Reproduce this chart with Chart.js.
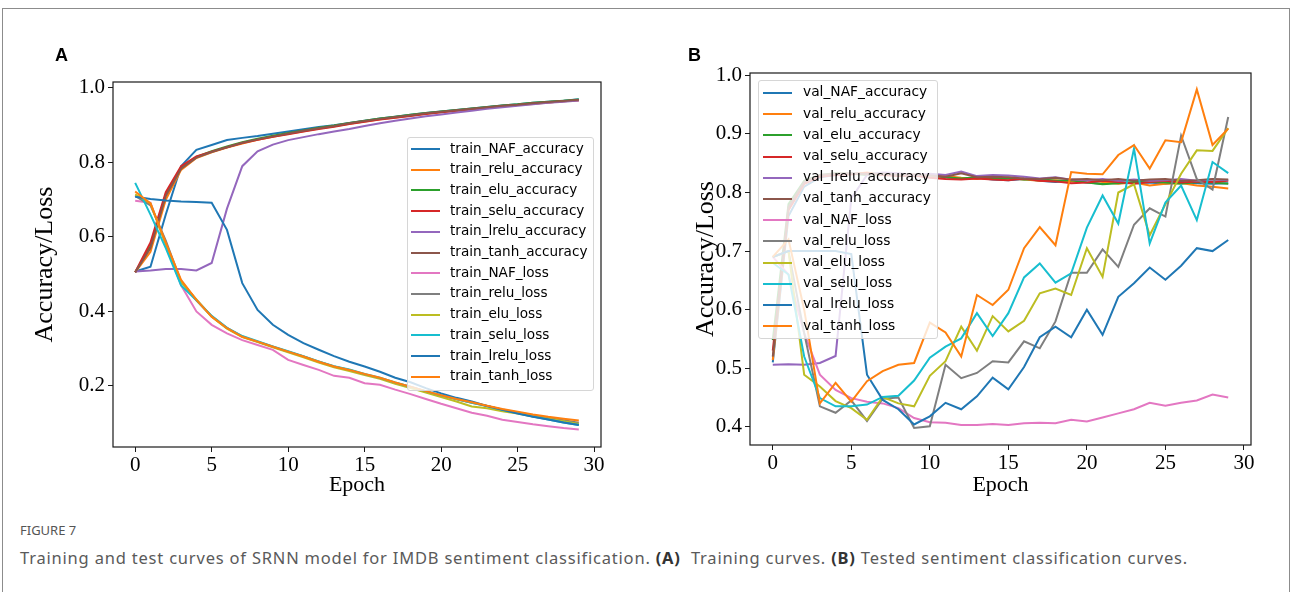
<!DOCTYPE html>
<html>
<head>
<meta charset="utf-8">
<script src="https://cdn.jsdelivr.net/npm/chart.js@4.4.0/dist/chart.umd.min.js"></script>
<style>
  body { margin: 0; background: #fff; width: 1292px; height: 592px; overflow: hidden; position: relative; }
  .frame { position: absolute; left: 2px; top: 8px; width: 1286px; height: 620px; border: 1px solid #8c8c8c; }
  canvas { position: absolute; top: 0; }
  #cA { left: 0; }
  #cB { left: 646px; }
  .plabel { position: absolute; font: bold 18px "Liberation Sans", Arial, sans-serif; color: #000; }
  .legend { position: absolute; border: 1px solid #d6d6d6; border-radius: 3px; background: rgba(255,255,255,0.8); box-sizing: border-box; }
  .legend .row { position: absolute; white-space: nowrap; font-family: "DejaVu Sans", sans-serif; color: #000; line-height: 1; }
  .legend .sw { position: absolute; height: 2px; }
  .fig { position: absolute; left: 20px; top: 521px; font: 13px "Noto Sans", sans-serif; color: #555; }
  .cap { position: absolute; left: 20px; top: 546px; font: 16.5px "Noto Sans", sans-serif; letter-spacing: 0.8px; color: #5a5a5a; white-space: nowrap; }
  .cap b { color: #333; }
</style>
</head>
<body>
<div class="frame"></div>
<canvas id="cA" width="646" height="520"></canvas>
<canvas id="cB" width="646" height="520"></canvas>
<div class="plabel" style="left:55px;top:45px">A</div>
<div class="plabel" style="left:688px;top:45px">B</div>
<div class="legend" id="legA" style="left:407px;top:137px;width:187px;height:254px"></div>
<div class="legend" id="legB" style="left:758px;top:80px;width:180px;height:259px"></div>
<div class="fig">FIGURE 7</div>
<div class="cap">Training and test curves of SRNN model for IMDB sentiment classification. <b>(A)</b>&nbsp; Training curves. <b>(B)</b> Tested sentiment classification curves.</div>

<script>
const epochs = [0,1,2,3,4,5,6,7,8,9,10,11,12,13,14,15,16,17,18,19,20,21,22,23,24,25,26,27,28,29];
const xTicks = [0, 5, 10, 15, 20, 25, 30];
const yTicksA = [0.2, 0.4, 0.6, 0.8, 1.0];
const yTicksB = [0.4, 0.5, 0.6, 0.7, 0.8, 0.9, 1.0];

const colors = ['#1f77b4','#ff7f0e','#2ca02c','#d62728','#9467bd','#8c564b','#e377c2','#7f7f7f','#bcbd22','#17becf','#1f77b4','#ff7f0e'];

const namesA = ['train_NAF_accuracy','train_relu_accuracy','train_elu_accuracy','train_selu_accuracy','train_lrelu_accuracy','train_tanh_accuracy',
  'train_NAF_loss','train_relu_loss','train_elu_loss','train_selu_loss','train_lrelu_loss','train_tanh_loss'];
const namesB = ['val_NAF_accuracy','val_relu_accuracy','val_elu_accuracy','val_selu_accuracy','val_lrelu_accuracy','val_tanh_accuracy',
  'val_NAF_loss','val_relu_loss','val_elu_loss','val_selu_loss','val_lrelu_loss','val_tanh_loss'];

// panel A - training
const trainNafAcc  = [0.507,0.52,0.66,0.79,0.834,0.847,0.86,0.866,0.871,0.877,0.883,0.889,0.895,0.9,0.906,0.912,0.918,0.923,0.928,0.933,0.937,0.941,0.945,0.949,0.953,0.956,0.96,0.963,0.966,0.97];
const trainReluAcc = [0.505,0.56,0.70,0.78,0.812,0.827,0.84,0.851,0.861,0.869,0.877,0.884,0.891,0.897,0.904,0.91,0.916,0.921,0.926,0.931,0.935,0.939,0.943,0.947,0.951,0.954,0.957,0.961,0.964,0.967];
const trainEluAcc  = [0.505,0.575,0.715,0.785,0.815,0.83,0.843,0.854,0.864,0.872,0.879,0.886,0.893,0.899,0.906,0.912,0.918,0.923,0.928,0.933,0.937,0.941,0.945,0.949,0.953,0.956,0.96,0.963,0.966,0.969];
const trainSeluAcc = [0.505,0.585,0.72,0.79,0.816,0.829,0.841,0.852,0.861,0.869,0.876,0.883,0.89,0.896,0.903,0.909,0.915,0.92,0.925,0.93,0.935,0.939,0.943,0.947,0.951,0.954,0.958,0.961,0.964,0.967];
const trainLreluAcc= [0.507,0.51,0.514,0.514,0.51,0.53,0.676,0.79,0.83,0.848,0.86,0.868,0.876,0.883,0.89,0.898,0.905,0.912,0.918,0.924,0.929,0.934,0.939,0.944,0.948,0.952,0.956,0.96,0.963,0.966];
const trainTanhAcc = [0.505,0.57,0.71,0.783,0.813,0.828,0.841,0.853,0.862,0.87,0.878,0.885,0.892,0.898,0.905,0.911,0.917,0.922,0.927,0.932,0.936,0.94,0.944,0.948,0.952,0.955,0.959,0.962,0.965,0.968];
const trainNafLoss  = [0.697,0.692,0.58,0.47,0.40,0.364,0.341,0.323,0.31,0.297,0.27,0.256,0.243,0.227,0.222,0.207,0.203,0.19,0.178,0.165,0.152,0.14,0.128,0.12,0.109,0.103,0.097,0.092,0.087,0.083];
const trainReluLoss = [0.71,0.685,0.59,0.48,0.43,0.387,0.356,0.333,0.319,0.305,0.292,0.279,0.265,0.252,0.243,0.231,0.221,0.208,0.197,0.185,0.174,0.164,0.155,0.146,0.137,0.129,0.121,0.114,0.108,0.101];
const trainEluLoss  = [0.714,0.69,0.58,0.48,0.432,0.386,0.354,0.331,0.318,0.304,0.29,0.277,0.263,0.25,0.24,0.229,0.219,0.206,0.194,0.182,0.17,0.158,0.145,0.14,0.132,0.126,0.118,0.112,0.105,0.098];
const trainSeluLoss = [0.745,0.66,0.57,0.47,0.43,0.388,0.356,0.334,0.32,0.306,0.293,0.28,0.266,0.253,0.244,0.232,0.222,0.209,0.198,0.186,0.175,0.165,0.155,0.146,0.136,0.127,0.118,0.11,0.102,0.095];
const trainLreluLoss= [0.708,0.702,0.698,0.695,0.694,0.692,0.619,0.476,0.404,0.364,0.337,0.315,0.297,0.28,0.265,0.252,0.238,0.222,0.21,0.194,0.18,0.168,0.158,0.146,0.136,0.126,0.117,0.11,0.102,0.095];
const trainTanhLoss = [0.722,0.69,0.585,0.485,0.431,0.386,0.355,0.332,0.319,0.305,0.292,0.279,0.265,0.252,0.243,0.232,0.222,0.209,0.198,0.186,0.175,0.165,0.156,0.147,0.138,0.131,0.123,0.117,0.112,0.107];

// panel B - validation
const valNafAcc  = [0.51,0.76,0.81,0.826,0.83,0.832,0.833,0.832,0.831,0.83,0.829,0.826,0.824,0.825,0.822,0.821,0.823,0.82,0.818,0.82,0.817,0.815,0.818,0.816,0.817,0.815,0.818,0.816,0.815,0.816];
const valReluAcc = [0.514,0.77,0.815,0.828,0.832,0.831,0.834,0.83,0.832,0.83,0.826,0.828,0.825,0.823,0.826,0.824,0.822,0.82,0.821,0.819,0.822,0.818,0.815,0.817,0.812,0.815,0.816,0.812,0.81,0.807];
const valEluAcc  = [0.548,0.78,0.82,0.83,0.833,0.832,0.83,0.831,0.829,0.828,0.83,0.826,0.824,0.826,0.823,0.825,0.822,0.823,0.82,0.821,0.817,0.814,0.816,0.818,0.819,0.817,0.815,0.818,0.817,0.815];
const valSeluAcc = [0.53,0.77,0.815,0.827,0.83,0.831,0.833,0.83,0.828,0.829,0.825,0.823,0.822,0.824,0.822,0.821,0.824,0.82,0.819,0.816,0.817,0.82,0.818,0.815,0.818,0.82,0.817,0.819,0.818,0.82];
const valLreluAcc= [0.506,0.507,0.506,0.509,0.521,0.79,0.83,0.834,0.833,0.83,0.832,0.83,0.836,0.828,0.83,0.829,0.827,0.824,0.826,0.822,0.821,0.823,0.82,0.822,0.82,0.821,0.823,0.82,0.822,0.821];
const valTanhAcc = [0.52,0.775,0.818,0.83,0.832,0.833,0.831,0.832,0.83,0.831,0.829,0.827,0.833,0.826,0.827,0.826,0.824,0.823,0.825,0.822,0.823,0.821,0.823,0.82,0.822,0.823,0.82,0.821,0.823,0.822];
const valNafLoss  = [0.69,0.66,0.56,0.489,0.463,0.449,0.443,0.44,0.432,0.415,0.408,0.407,0.403,0.403,0.405,0.403,0.406,0.407,0.406,0.412,0.409,0.416,0.423,0.43,0.441,0.436,0.441,0.445,0.455,0.45];
const valReluLoss = [0.69,0.70,0.56,0.435,0.424,0.445,0.41,0.448,0.45,0.398,0.401,0.506,0.483,0.492,0.512,0.51,0.546,0.534,0.58,0.663,0.663,0.703,0.673,0.745,0.773,0.759,0.897,0.823,0.805,0.929];
const valEluLoss  = [0.69,0.70,0.489,0.469,0.444,0.432,0.412,0.451,0.44,0.435,0.487,0.512,0.571,0.53,0.589,0.563,0.581,0.628,0.636,0.625,0.705,0.656,0.80,0.814,0.727,0.78,0.832,0.872,0.871,0.91];
const valSeluLoss = [0.68,0.66,0.52,0.449,0.435,0.435,0.438,0.451,0.453,0.479,0.518,0.537,0.551,0.594,0.555,0.594,0.655,0.679,0.646,0.662,0.74,0.795,0.747,0.875,0.713,0.783,0.812,0.753,0.852,0.833];
const valLreluLoss= [0.69,0.70,0.70,0.70,0.70,0.695,0.489,0.446,0.43,0.404,0.418,0.441,0.43,0.452,0.484,0.464,0.502,0.553,0.571,0.553,0.60,0.557,0.622,0.645,0.672,0.651,0.675,0.705,0.70,0.719];
const valTanhLoss = [0.69,0.72,0.60,0.44,0.475,0.443,0.478,0.495,0.506,0.509,0.578,0.561,0.52,0.625,0.608,0.634,0.705,0.741,0.71,0.835,0.832,0.831,0.864,0.881,0.841,0.889,0.886,0.976,0.881,0.909];

const seriesA = [trainNafAcc, trainReluAcc, trainEluAcc, trainSeluAcc, trainLreluAcc, trainTanhAcc,
  trainNafLoss, trainReluLoss, trainEluLoss, trainSeluLoss, trainLreluLoss, trainTanhLoss];
const seriesB = [valNafAcc, valReluAcc, valEluAcc, valSeluAcc, valLreluAcc, valTanhAcc,
  valNafLoss, valReluLoss, valEluLoss, valSeluLoss, valLreluLoss, valTanhLoss];

const serif = 'Liberation Serif, Times New Roman, serif';

// full box like matplotlib spines
const boxPlugin = {
  id: 'box',
  afterDatasetsDraw(chart) {
    const a = chart.chartArea, ctx = chart.ctx;
    ctx.save();
    ctx.strokeStyle = '#1a1a1a';
    ctx.lineWidth = 1.2;
    ctx.strokeRect(a.left, a.top, a.right - a.left, a.bottom - a.top);
    ctx.restore();
  }
};

function makeSets(names, series) {
  return names.map((n, i) => ({
    label: n,
    data: epochs.map((e, j) => ({ x: e, y: series[i][j] })),
    borderColor: colors[i],
    backgroundColor: colors[i],
    borderWidth: 2,
    pointRadius: 0,
    fill: false,
    tension: 0,
    order: names.length - i
  }));
}

function makeChart(id, names, series, cfg) {
  return new Chart(document.getElementById(id), {
    type: 'line',
    data: { datasets: makeSets(names, series) },
    options: {
      responsive: false,
      animation: false,
      events: [],
      layout: { padding: { left: 0, top: cfg.padTop, right: cfg.padRight, bottom: 0 } },
      plugins: { legend: { display: false }, tooltip: { enabled: false } },
      scales: {
        x: {
          type: 'linear', min: -1.45, max: 30.45,
          border: { display: false },
          grid: { display: true, drawOnChartArea: false, drawTicks: true, tickLength: 5, color: '#1a1a1a' },
          ticks: { font: { family: serif, size: 21 }, color: '#000', padding: 1, maxRotation: 0 },
          afterBuildTicks: s => { s.ticks = xTicks.map(v => ({ value: v })); },
          afterFit: s => { s.height = cfg.xHeight; },
          title: { display: true, text: 'Epoch', font: { family: serif, size: 22 }, color: '#000', padding: { top: 0, bottom: cfg.xTitlePad } }
        },
        y: {
          type: 'linear', min: cfg.yMin, max: cfg.yMax,
          border: { display: false },
          grid: { display: true, drawOnChartArea: false, drawTicks: true, tickLength: 5, color: '#1a1a1a' },
          ticks: { font: { family: serif, size: 21 }, color: '#000', padding: 3, callback: v => v.toFixed(1) },
          afterBuildTicks: s => { s.ticks = cfg.yTicks.map(v => ({ value: v })); },
          afterFit: s => { s.width = cfg.yWidth; },
          title: { display: true, text: 'Accuracy/Loss', font: { family: serif, size: 26 }, color: '#000', padding: { top: cfg.yTitlePad, bottom: 0 } }
        }
      }
    },
    plugins: [boxPlugin]
  });
}

makeChart('cA', namesA, seriesA, { padTop: 82, padRight: 45, xHeight: 73, yWidth: 113, yMin: 0.036, yMax: 1.016, yTicks: yTicksA, xTitlePad: 22, yTitlePad: 30 });
makeChart('cB', namesB, seriesB, { padTop: 73, padRight: 41, xHeight: 75, yWidth: 104, yMin: 0.369, yMax: 1.004, yTicks: yTicksB, xTitlePad: 22, yTitlePad: 45 });

function buildLegend(id, names, fontSize, rowH, firstY, swLeft, textLeft) {
  const box = document.getElementById(id);
  names.forEach((n, i) => {
    const cy = firstY + i * rowH;
    const sw = document.createElement('div');
    sw.className = 'sw';
    sw.style.cssText = `left:${swLeft}px;top:${cy - 1}px;width:29px;background:${colors[i]}`;
    const t = document.createElement('div');
    t.className = 'row';
    t.style.cssText = `left:${textLeft}px;top:${cy - fontSize * 0.55}px;font-size:${fontSize}px`;
    t.textContent = n;
    box.appendChild(sw);
    box.appendChild(t);
  });
}
buildLegend('legA', namesA, 13.6, 20.7, 11, 3, 42);
buildLegend('legB', namesB, 13.8, 21.2, 12, 4, 44);
</script>
</body>
</html>
